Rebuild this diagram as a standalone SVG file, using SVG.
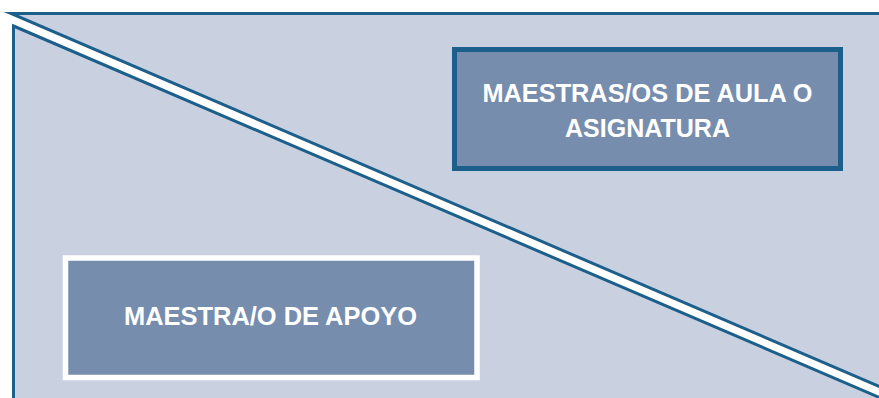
<svg xmlns="http://www.w3.org/2000/svg" width="879" height="398" viewBox="0 0 879 398">
  <style>
    .tri { fill: #c9d1e1; stroke: #1d5f8b; stroke-width: 3; stroke-linejoin: miter; stroke-miterlimit: 10; }
    .box { fill: #768dae; }
    .lbl { font-family: "Liberation Sans", Arial, sans-serif; font-weight: bold; font-size: 26.5px; fill: #ffffff; text-anchor: middle; }
  </style>
  <rect x="0" y="0" width="879" height="398" fill="#ffffff"/>
  <g id="background">
    <polygon class="tri" points="11,13.5 884,13.5 884,388.5"/>
    <polygon class="tri" points="13.5,26 890,402 13.5,402"/>
  </g>
  <g id="connectors"/>
  <g id="node-aula">
    <rect class="box" x="454.5" y="49.5" width="386" height="119" stroke="#1d5f8b" stroke-width="5"/>
    <text class="lbl" x="647.5" y="101.5" textLength="330" lengthAdjust="spacingAndGlyphs">MAESTRAS/OS DE AULA O</text>
    <text class="lbl" x="647.5" y="136.5" textLength="165" lengthAdjust="spacingAndGlyphs">ASIGNATURA</text>
  </g>
  <g id="node-apoyo">
    <rect class="box" x="65.5" y="258" width="411.5" height="119.5" stroke="#ffffff" stroke-width="5.5"/>
    <text class="lbl" x="270.5" y="325" textLength="293" lengthAdjust="spacingAndGlyphs">MAESTRA/O DE APOYO</text>
  </g>
</svg>
